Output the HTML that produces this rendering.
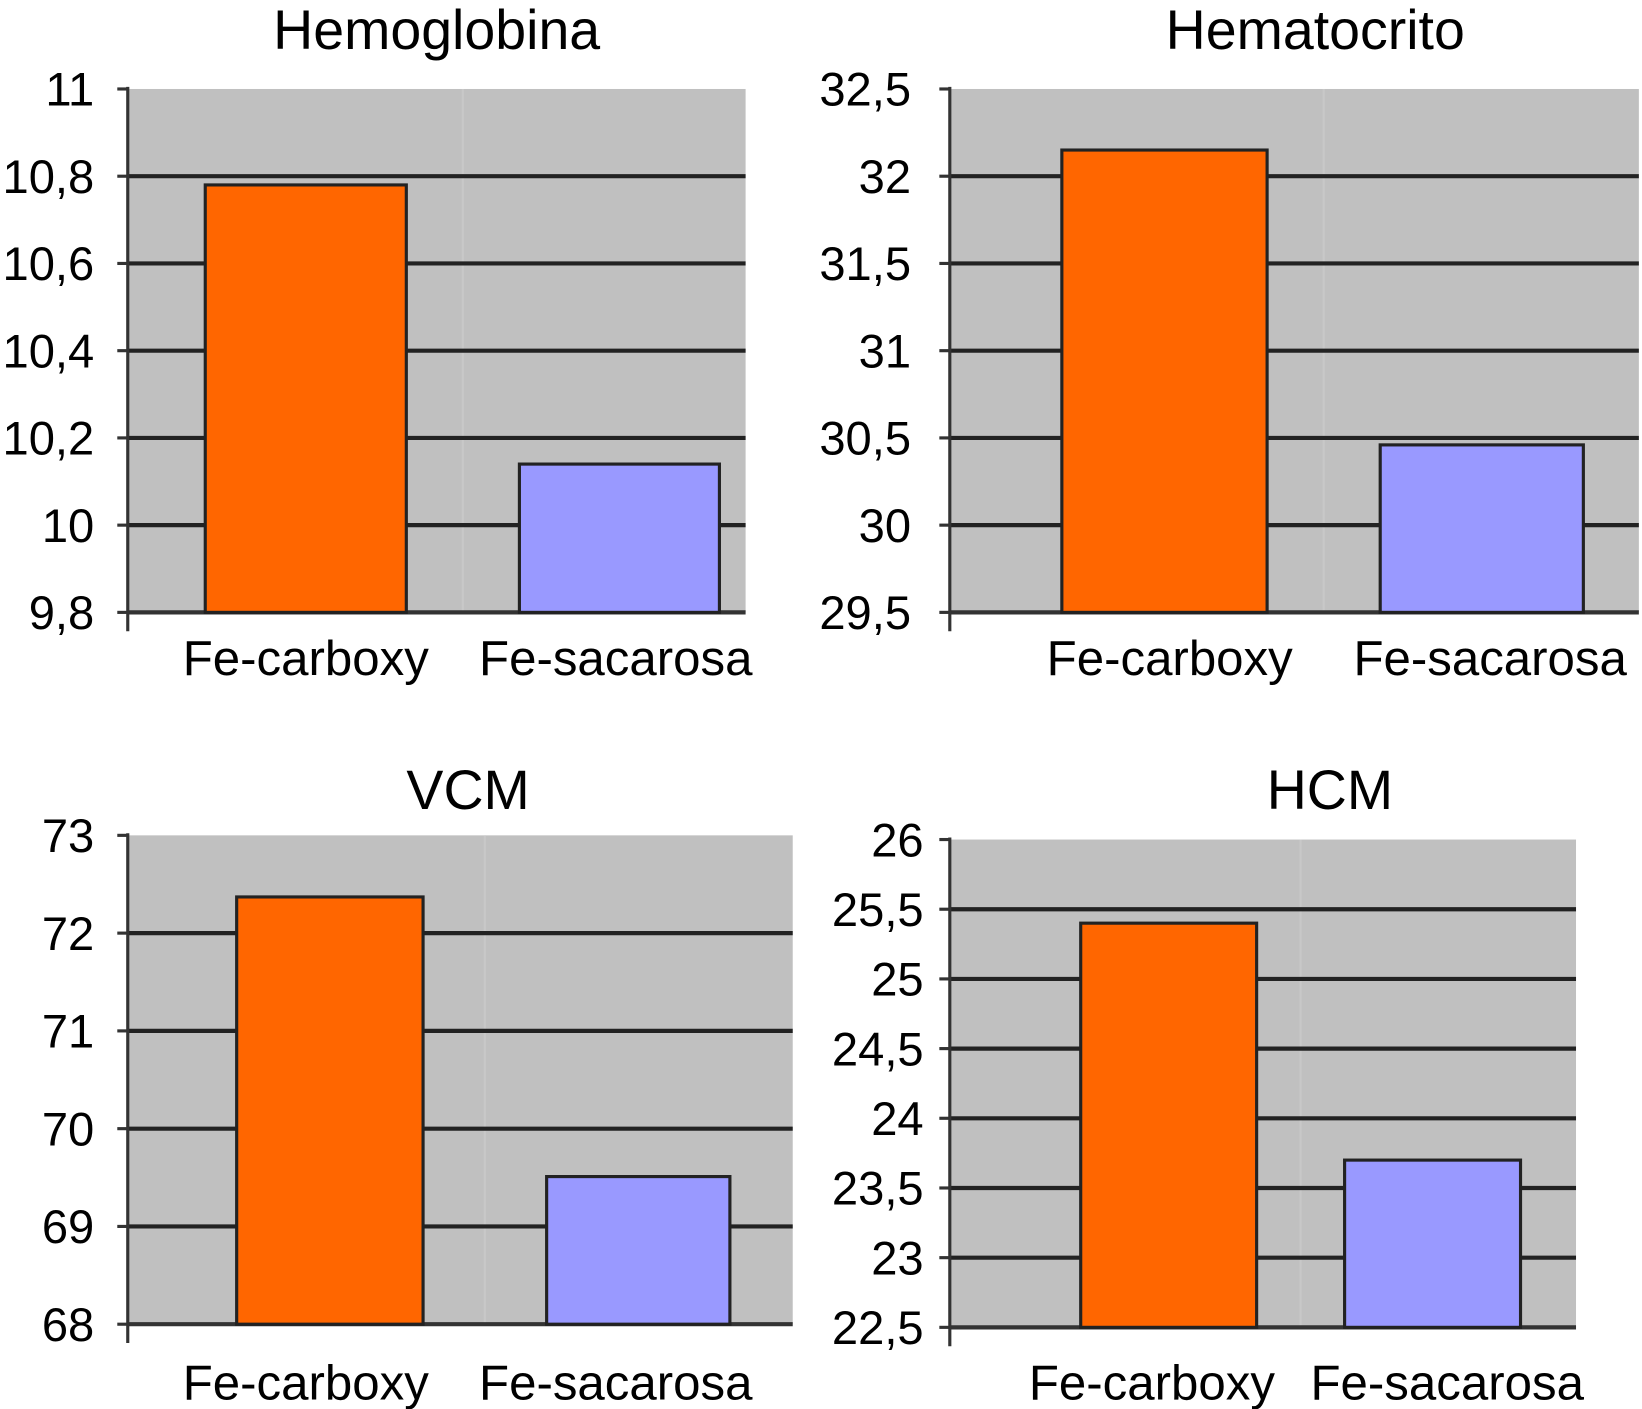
<!DOCTYPE html>
<html><head><meta charset="utf-8"><style>
html,body{margin:0;padding:0;background:#fff;}
svg{display:block;}
text{font-family:"Liberation Sans",Arial,sans-serif;fill:#000;}
</style></head><body>
<svg id="root" width="1642" height="1409" viewBox="0 0 1568 1346" preserveAspectRatio="none"></svg>
<script>
const categories = ["Fe-carboxy","Fe-sacarosa"];
const titles = ["Hemoglobina","Hematocrito","VCM","HCM"];
const hemoValues = [10.78, 10.14];
const hctValues = [32.15, 30.46];
const vcmValues = [72.37, 69.51];
const hcmValues = [25.40, 23.70];
const hemoTicks = ["9,8","10","10,2","10,4","10,6","10,8","11"];
const hctTicks = ["29,5","30","30,5","31","31,5","32","32,5"];
const vcmTicks = ["68","69","70","71","72","73"];
const hcmTicks = ["22,5","23","23,5","24","24,5","25","25,5","26"];
const hemoRange=[9.8,11], hctRange=[29.5,32.5], vcmRange=[68,73], hcmRange=[22.5,26];

const NS="http://www.w3.org/2000/svg";
const root=document.getElementById('root');
function mk(tag,attrs,parent){const e=document.createElementNS(NS,tag);for(const k in attrs)e.setAttribute(k,attrs[k]);(parent||root).appendChild(e);return e;}

const panels=[
 {title:titles[0],vals:hemoValues,ticks:hemoTicks,range:hemoRange,ax:122,right:712,top:85,bot:585,bars:[[196,388],[496,687]],tx:417,ty:47,lx:90,cy:645,cx:[292,588],name:'hemoglobina'},
 {title:titles[1],vals:hctValues,ticks:hctTicks,range:hctRange,ax:907,right:1565,top:85,bot:585,bars:[[1014,1210],[1318,1512]],tx:1256,ty:47,lx:870,cy:645,cx:[1117,1423],name:'hematocrito'},
 {title:titles[2],vals:vcmValues,ticks:vcmTicks,range:vcmRange,ax:122,right:757,top:798,bot:1265,bars:[[226,404],[522,697]],tx:447,ty:773,lx:90,cy:1337,cx:[292,588],name:'vcm'},
 {title:titles[3],vals:hcmValues,ticks:hcmTicks,range:hcmRange,ax:907,right:1505,top:802,bot:1268,bars:[[1032,1200],[1284,1452]],tx:1270,ty:773,lx:882,cy:1337,cx:[1100,1382],name:'hcm'}
];
const colors=["#ff6600","#9999ff"];
panels.forEach(p=>{
 const g=mk('g',{});
 
 
 const y=v=>p.bot-(v-p.range[0])/(p.range[1]-p.range[0])*(p.bot-p.top);
 const bg=mk('rect',{x:p.ax,y:p.top,width:p.right-p.ax,height:p.bot-p.top,fill:'#c0c0c0'},g);
 
 
 const mid=(p.bars[0][1]+p.bars[1][0])/2;
 mk('line',{x1:mid,x2:mid,y1:p.top,y2:p.bot,stroke:'#c8c8c8','stroke-width':2},g);
 const n=p.ticks.length;
 p.ticks.forEach((t,i)=>{
  const v=p.range[0]+i*(p.range[1]-p.range[0])/(n-1);
  const yy=y(v);
  if(i>0&&i<n-1){const gl=mk('line',{x1:p.ax,x2:p.right,y1:yy,y2:yy,stroke:'#222',"stroke-width":4},g);
   }
  mk('line',{x1:p.ax-10,x2:p.ax,y1:yy,y2:yy,stroke:'#333','stroke-width':3},g);
  const tl=mk('text',{x:p.lx,y:yy+16,'font-size':45,'text-anchor':'end'},g);
  tl.textContent=t;
  
  
 });
 mk('line',{x1:p.ax,x2:p.right,y1:p.bot,y2:p.bot,stroke:'#333','stroke-width':4},g);
 p.vals.forEach((v,i)=>{
  const b=p.bars[i];
  const r=mk('rect',{x:b[0],y:y(v),width:b[1]-b[0],height:p.bot-y(v),fill:colors[i],stroke:'#222','stroke-width':3},g);
  
  
  const cl=mk('text',{x:p.cx[i],y:p.cy,'font-size':47,'text-anchor':'middle'},g);
  cl.textContent=categories[i];
  
  
 });
 const ax=mk('line',{x1:p.ax,x2:p.ax,y1:p.top-2,y2:p.bot+18,stroke:'#333','stroke-width':3},g);
 
 
 const tt=mk('text',{x:p.tx,y:p.ty,'font-size':53,'text-anchor':'middle'},g);
 tt.textContent=p.title;
 
 
});
</script>
</body></html>
